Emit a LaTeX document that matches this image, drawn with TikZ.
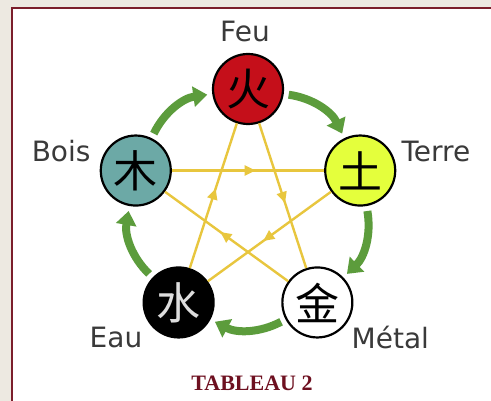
\documentclass[tikz,border=0pt]{standalone}
\usepackage{fontspec}
\setmainfont{DejaVu Sans}
\newfontfamily\cjk{Noto Sans CJK SC}
\newfontfamily\titlefont{Liberation Serif}
\usepackage{xcolor}
\usetikzlibrary{arrows.meta}
\usetikzlibrary{decorations.markings, positioning}

\definecolor{feured}{HTML}{C50F1A}
\definecolor{terreyellow}{HTML}{E4FF3C}
\definecolor{boisteal}{HTML}{6CA9A6}
\definecolor{eaugray}{HTML}{DDDDDD}
\definecolor{cyclegreen}{HTML}{5C9C3C}
\definecolor{controlyellow}{HTML}{E8C63E}
\definecolor{labelgray}{HTML}{3A3A3A}
\definecolor{titlered}{HTML}{6E1020}
\definecolor{framered}{HTML}{7B1E2B}
\definecolor{pagebeige}{HTML}{EDE9E1}

\tikzset{
    element/.style = {circle, draw=black, line width=2.2pt, minimum size=70pt, inner sep=0pt,
        font=\cjk\fontsize{44}{44}\selectfont},
    elemlabel/.style = {text=labelgray, inner sep=0pt, font=\fontsize{28}{28}\selectfont},
    greenarrow/.style = {draw=cyclegreen, line width=8pt, -{Triangle[length=14pt, width=20pt]},
        bend left=28, shorten <=5pt, shorten >=5pt},
    yellowline/.style = {draw=controlyellow, line width=2.4pt, postaction={decorate},
        decoration={markings, mark=at position 0.55 with {\arrow{Triangle[length=11pt, width=10pt]}}}},
}

\begin{document}
\begin{tikzpicture}[x=1pt, y=1pt]
        \useasboundingbox (0,0) rectangle (491,401);
        \fill[pagebeige] (0,0) rectangle (491,401);
        \filldraw[fill=white, draw=framered, line width=1.4pt] (12,393) rectangle (520,-20);

        \begin{scope}[shift={(248,194)}]
            \node[element, fill=feured] (feu) at (90:118) {火};
            \node[element, fill=terreyellow] (terre) at (18:118) {土};
            \node[element, fill=white] (metal) at (-54:118) {金};
            \node[element, fill=black, text=eaugray] (eau) at (-126:118) {水};
            \node[element, fill=boisteal] (bois) at (162:118) {木};
        \end{scope}

        \node[elemlabel, above=11pt of feu, xshift=-3pt] (feulabel) {Feu};
        \node[elemlabel, right=5pt of terre, yshift=19pt] (terrelabel) {Terre};
        \node[elemlabel, left=9pt of bois, yshift=19pt] (boislabel) {Bois};
        \node[elemlabel, left=0pt of eau, yshift=-35pt] (eaulabel) {Eau};
        \node[elemlabel, right=-2pt of metal, yshift=-35pt] (metallabel) {Métal};

        % generation cycle
        \draw[greenarrow] (bois) to (feu);
        \draw[greenarrow] (feu) to (terre);
        \draw[greenarrow] (terre) to (metal);
        \draw[greenarrow] (metal) to (eau);
        \draw[greenarrow] (eau) to (bois);

        % control cycle
        \draw[yellowline] (bois) -- (terre);
        \draw[yellowline] (terre) -- (eau);
        \draw[yellowline] (eau) -- (feu);
        \draw[yellowline] (feu) -- (metal);
        \draw[yellowline] (metal) -- (bois);

        \node[text=titlered, font=\titlefont\bfseries\fontsize{22}{22}\selectfont] (tableau) at (252,18) {TABLEAU 2};
    \end{tikzpicture}
\end{document}
